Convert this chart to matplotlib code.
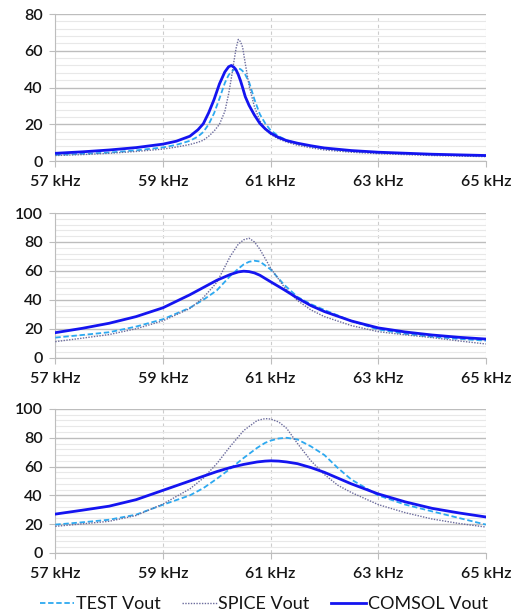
import matplotlib
matplotlib.use("Agg")
import matplotlib.pyplot as plt
from matplotlib.ticker import MultipleLocator, FuncFormatter
from matplotlib.lines import Line2D

plt.rcParams['font.family'] = ['Lato', 'DejaVu Sans']

# === DADOS (kHz, Vout) ===
# grafico 1
freq_1 = [57, 57.5, 58, 58.5, 59, 59.25, 59.5, 59.65, 59.75, 59.85, 59.95, 60.05, 60.15,
          60.22, 60.27, 60.32, 60.36, 60.40, 60.44, 60.48, 60.53, 60.6, 60.7, 60.8,
          60.9, 61.0, 61.15, 61.3, 61.5, 61.75, 62, 62.5, 63, 64, 65]
comsol_1 = [4.2, 5.0, 6.0, 7.3, 9.2, 10.8, 13.5, 17.0, 20.3, 26.3, 33.5, 42.0, 48.5,
            51.3, 52.0, 51.0, 49.5, 47.0, 43.8, 40.0, 35.0, 30.3, 25.0, 20.5,
            17.5, 15.2, 12.8, 11.1, 9.7, 8.3, 7.1, 5.7, 4.8, 3.7, 3.0]
test_1 = [3.3, 3.9, 4.6, 5.8, 7.4, 8.8, 11.0, 13.3, 15.8, 20.0, 26.0, 34.0, 42.5,
          46.8, 48.5, 49.7, 50.3, 50.4, 50.0, 49.0, 47.0, 43.0, 33.5, 25.5,
          20.5, 16.7, 13.5, 11.3, 9.5, 8.0, 6.8, 5.4, 4.5, 3.5, 2.8]
spice_1 = [3.0, 3.5, 4.2, 5.2, 6.5, 7.6, 9.0, 10.2, 11.3, 13.5, 16.3, 20.0, 27.0,
           36.5, 45.0, 54.5, 61.5, 66.2, 65.0, 62.0, 53.0, 41.0, 29.5, 22.0,
           17.5, 14.5, 12.0, 10.3, 8.6, 7.2, 6.0, 4.8, 4.0, 3.0, 2.4]

# grafico 2
freq_2 = [57, 57.5, 58, 58.5, 59, 59.5, 59.75, 60.0, 60.25, 60.4, 60.5, 60.6, 60.7,
          60.8, 61.0, 61.25, 61.5, 61.75, 62, 62.5, 63, 63.5, 64, 64.5, 65]
comsol_2 = [17.3, 20.3, 23.8, 28.4, 34.5, 43.5, 48.5, 53.5, 57.5, 59.3, 59.8, 59.5, 58.6,
            57.0, 52.5, 47.0, 41.2, 36.0, 31.9, 25.4, 20.6, 17.8, 15.7, 14.1, 12.9]
test_2 = [13.9, 15.7, 17.6, 21.5, 26.6, 34.5, 40.0, 46.5, 56.5, 61.5, 64.5, 66.3, 67.0,
          66.5, 61.0, 50.5, 42.0, 37.0, 33.0, 25.4, 19.5, 16.5, 14.5, 13.0, 11.8]
spice_2 = [11.1, 13.5, 16.0, 20.0, 25.5, 34.0, 41.5, 52.0, 70.0, 78.5, 81.5, 82.6, 80.0,
           75.0, 62.0, 49.0, 39.5, 33.0, 28.4, 22.2, 18.0, 15.8, 13.9, 11.6, 9.5]

# grafico 3
freq_3 = [57, 57.5, 58, 58.5, 59, 59.5, 59.75, 60.0, 60.25, 60.5, 60.75, 60.9, 61.0,
          61.15, 61.3, 61.5, 61.75, 62, 62.25, 62.5, 63, 63.5, 64, 64.5, 65]
comsol_3 = [27.0, 29.7, 32.5, 37.0, 43.5, 50.0, 53.3, 56.5, 59.3, 61.5, 63.2, 63.8, 64.0,
            63.8, 63.2, 62.0, 59.3, 56.0, 52.0, 48.0, 41.0, 35.5, 31.0, 27.8, 25.0]
test_3 = [19.7, 21.3, 23.1, 26.6, 33.5, 40.0, 45.0, 51.5, 58.5, 66.0, 73.0, 76.5, 78.0,
          79.5, 80.0, 78.8, 74.0, 68.0, 59.0, 51.0, 40.0, 33.6, 28.9, 24.3, 19.7]
spice_3 = [18.5, 20.2, 22.0, 26.0, 34.0, 44.5, 52.0, 62.0, 74.0, 85.0, 92.0, 93.3, 93.0,
           91.0, 86.5, 76.0, 64.0, 54.5, 47.0, 42.0, 33.6, 28.0, 23.6, 20.5, 18.0]

y_max = [80, 100, 100]
x_ticks = [57, 59, 61, 63, 65]
series_names = ['TEST Vout', 'SPICE Vout', 'COMSOL Vout']

# === ESTILO ===
COR_TEST = '#2da9f0'
COR_SPICE = '#6b6b9c'
COR_COMSOL = '#1414f0'
COR_GRADE = '#bdbdbd'
COR_TEXTO = '#151515'

fig = plt.figure(figsize=(5.12, 6.16), dpi=100)
posicoes = [
    [0.108, 0.7386, 0.841, 0.2386],
    [0.108, 0.4193, 0.841, 0.2349],
    [0.108, 0.1023, 0.841, 0.2338],
]
dados = [
    (freq_1, test_1, spice_1, comsol_1),
    (freq_2, test_2, spice_2, comsol_2),
    (freq_3, test_3, spice_3, comsol_3),
]

for pos, (f, t, s, c), ymax in zip(posicoes, dados, y_max):
    ax = fig.add_axes(pos)
    ax.plot(f, t, color=COR_TEST, lw=1.3, ls=(0, (3, 1.5)), zorder=3)
    ax.plot(f, s, color=COR_SPICE, lw=1.0, ls=(0, (1, 1)), zorder=3)
    ax.plot(f, c, color=COR_COMSOL, lw=2.0, zorder=4)

    ax.set_xlim(57, 65)
    ax.set_ylim(0, ymax)
    ax.set_xticks(x_ticks)
    ax.xaxis.set_major_formatter(FuncFormatter(lambda v, p: f"{v:.0f} kHz"))
    ax.yaxis.set_major_locator(MultipleLocator(20))
    ax.yaxis.set_minor_locator(MultipleLocator(4))

    ax.grid(axis='y', which='major', color=COR_GRADE, lw=1.0)
    ax.grid(axis='y', which='minor', color='#e8e8e8', lw=0.8)
    ax.grid(axis='x', which='major', color='#cccccc', lw=0.8, ls=(0, (3, 3)))
    ax.set_axisbelow(True)

    for lado in ['top', 'right']:
        ax.spines[lado].set_visible(False)
    ax.spines['left'].set_color(COR_GRADE)
    ax.spines['bottom'].set_color(COR_GRADE)
    ax.tick_params(axis='both', which='major', length=4, color=COR_GRADE,
                   labelsize=11.5, labelcolor=COR_TEXTO)
    ax.tick_params(axis='y', which='minor', length=0)
    ax.tick_params(axis='x', pad=6)
    ax.tick_params(axis='y', pad=5)
    plt.setp(ax.get_xticklabels() + ax.get_yticklabels(), fontweight='semibold')

# === LEGENDA ===
handles = [
    Line2D([], [], color=COR_TEST, lw=1.3, ls=(0, (3, 1.5))),
    Line2D([], [], color=COR_SPICE, lw=1.0, ls=(0, (1, 1))),
    Line2D([], [], color=COR_COMSOL, lw=2.0),
]
fig.legend(handles, series_names, loc='center', bbox_to_anchor=(0.515, 1 - 604 / 616),
           ncol=3, frameon=False, fontsize=13, handlelength=1.9, handletextpad=0.1,
           columnspacing=1.2, labelcolor=COR_TEXTO, borderpad=0.2)

fig.savefig('out.png', dpi=100)
